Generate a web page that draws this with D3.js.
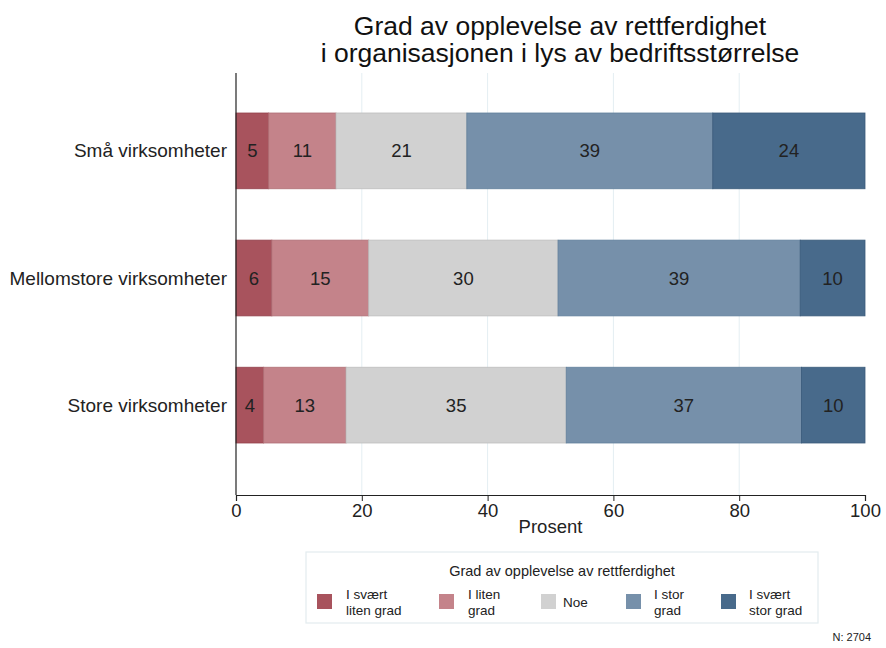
<!DOCTYPE html>
<html><head><meta charset="utf-8">
<script src="https://cdn.jsdelivr.net/npm/d3@7"></script>
<style>body{margin:0;background:#fff;font-family:Arial,"Liberation Sans",sans-serif;}</style>
</head><body>
<svg id="c" width="886" height="648"></svg>
<script>
const categories = ["Små virksomheter", "Mellomstore virksomheter", "Store virksomheter"];
const seriesNames = ["I svært liten grad", "I liten grad", "Noe", "I stor grad", "I svært stor grad"];
const legendLabels = [["I svært", "liten grad"], ["I liten", "grad"], ["Noe"], ["I stor", "grad"], ["I svært", "stor grad"]];
const sISvaertLiten = [5.2, 5.7, 4.4];
const sILiten = [10.7, 15.4, 13.1];
const sNoe = [20.8, 30.1, 35.0];
const sIStor = [39.1, 38.5, 37.4];
const sISvaertStor = [24.2, 10.3, 10.1];
const xTicks = [0, 20, 40, 60, 80, 100];
const colors = ["#a8535d", "#c4838a", "#d1d1d1", "#7690aa", "#486a8b"];
const strokes = ["#94434d", "#b06f76", "#bdbdbd", "#62809c", "#3a5b7b"];

const series = [sISvaertLiten, sILiten, sNoe, sIStor, sISvaertStor];
const table = categories.map((c, i) => {
  const o = {cat: c};
  seriesNames.forEach((s, j) => o[s] = series[j][i]);
  return o;
});
const stack = d3.stack().keys(seriesNames)(table);

const svg = d3.select("#c");
const L = 236, R = 865, T = 73, B = 495;
const x = d3.scaleLinear().domain([0, 100]).range([L, R]);
const y = d3.scaleBand().domain(categories).range([113, 443]).paddingInner(0.404).paddingOuter(0);

// gridlines
svg.append("g").selectAll("line").data(xTicks.filter(t => t > 0 && t < 100)).join("line")
  .attr("x1", d => x(d)).attr("x2", d => x(d)).attr("y1", T).attr("y2", B)
  .attr("stroke", "#e4eef2").attr("stroke-width", 1);

// title
svg.append("text").attr("x", 560).attr("y", 35).attr("text-anchor", "middle")
  .attr("font-size", 26.5).attr("fill", "#111").text("Grad av opplevelse av rettferdighet");
svg.append("text").attr("x", 560).attr("y", 62).attr("text-anchor", "middle")
  .attr("font-size", 26.5).attr("fill", "#111").text("i organisasjonen i lys av bedriftsstørrelse");

// bars
stack.forEach((layer, j) => {
  const g = svg.append("g");
  g.selectAll("rect").data(layer).join("rect")
    .attr("x", d => x(d[0])).attr("width", d => x(d[1]) - x(d[0]))
    .attr("y", d => y(d.data.cat)).attr("height", y.bandwidth())
    .attr("fill", colors[j]).attr("stroke", strokes[j]).attr("stroke-width", 0.8);
  g.selectAll("text").data(layer).join("text")
    .attr("x", d => (x(d[0]) + x(d[1])) / 2)
    .attr("y", d => y(d.data.cat) + y.bandwidth() / 2 + 6.5)
    .attr("text-anchor", "middle").attr("font-size", 18.5).attr("fill", "#222")
    .text(d => Math.round(d[1] - d[0]));
});

// y axis
svg.append("line").attr("x1", L).attr("x2", L).attr("y1", T).attr("y2", B).attr("stroke", "#222").attr("stroke-width", 1.2);
svg.append("g").selectAll("text").data(categories).join("text")
  .attr("x", 227).attr("y", d => y(d) + y.bandwidth() / 2 + 6.5)
  .attr("text-anchor", "end").attr("font-size", 19).attr("fill", "#222").text(d => d);

// x axis
const xa = svg.append("g").attr("transform", `translate(0,${B})`)
  .call(d3.axisBottom(x).tickValues(xTicks).tickSize(6).tickPadding(3));
xa.select(".domain").attr("stroke", "#222").attr("stroke-width", 1.2);
xa.selectAll(".tick line").attr("stroke", "#222");
xa.selectAll(".tick text").attr("font-size", 18.5).attr("fill", "#222").attr("font-family", "Arial,'Liberation Sans',sans-serif");
svg.append("text").attr("x", x(50)).attr("y", 533).attr("text-anchor", "middle")
  .attr("font-size", 18.5).attr("fill", "#222").text("Prosent");

// legend
svg.append("rect").attr("x", 306).attr("y", 552).attr("width", 512).attr("height", 71)
  .attr("fill", "#fff").attr("stroke", "#e3ecef").attr("stroke-width", 1.2);
svg.append("text").attr("x", 562).attr("y", 576).attr("text-anchor", "middle")
  .attr("font-size", 14.5).attr("fill", "#222").text("Grad av opplevelse av rettferdighet");
const swX = [317, 439, 541, 626, 721];
const txX = [346, 468, 563, 654, 749];
seriesNames.forEach((s, j) => {
  svg.append("rect").attr("x", swX[j]).attr("y", 594).attr("width", 15).attr("height", 15)
    .attr("fill", colors[j]);
  const lines = legendLabels[j];
  const t = svg.append("text").attr("font-size", 13.5).attr("fill", "#222");
  if (lines.length === 1) {
    t.append("tspan").attr("x", txX[j]).attr("y", 607).text(lines[0]);
  } else {
    t.append("tspan").attr("x", txX[j]).attr("y", 599).text(lines[0]);
    t.append("tspan").attr("x", txX[j]).attr("y", 615).text(lines[1]);
  }
});

svg.append("text").attr("x", 871).attr("y", 641).attr("text-anchor", "end")
  .attr("font-size", 11).attr("fill", "#222").text("N: 2704");
</script>
</body></html>
